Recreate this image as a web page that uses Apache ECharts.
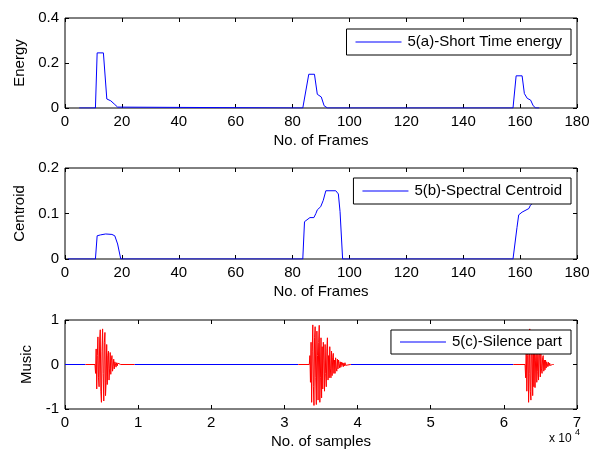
<!DOCTYPE html>
<html><head><meta charset="utf-8">
<script src="https://cdn.jsdelivr.net/npm/echarts@6/dist/echarts.min.js"></script>
<style>html,body{margin:0;padding:0;background:#fff}#c{width:609px;height:458px}</style>
</head><body><div id="c"></div>
<script>
// ---- Data ----
var energyFrames = [5, 10.7, 11.3, 13.5, 14.7, 16.1, 17.3, 18.5, 19.2, 83.6, 85.7, 87.7, 88.7, 90.1, 91.1, 92.3, 157.5, 158.6, 160.7, 161.5, 162.5, 163.7, 164.6, 165.5, 166.7];
var energyValues = [0, 0, 0.245, 0.245, 0.04, 0.032, 0.018, 0.004, 0, 0, 0.15, 0.15, 0.061, 0.049, 0.01, 0, 0, 0.143, 0.143, 0.064, 0.043, 0.035, 0.01, 0, 0];

var centroidFrames = [1, 10.7, 11.3, 12.5, 14.3, 16.5, 17.5, 18.5, 19.6, 83.6, 84.2, 86.1, 87.5, 88.2, 88.7, 89.9, 90.8, 91.7, 95.2, 96.1, 96.7, 97.6, 157.5, 158.9, 159.5, 160.7, 163.1, 163.6, 166.7];
var centroidValues = [0, 0, 0.051, 0.053, 0.055, 0.054, 0.051, 0.033, 0, 0, 0.082, 0.091, 0.091, 0.1, 0.108, 0.115, 0.129, 0.150, 0.150, 0.143, 0.104, 0, 0, 0.069, 0.097, 0.103, 0.111, 0.118, 0.135];

// music (x in units of 10^4 samples)
var silenceStarts = [0, 0.95, 3.91];
var silenceEnds = [0.28, 3.19, 6.13];
var voicedStarts = [0.28, 3.19, 6.13];
var voicedEnds = [0.95, 3.91, 6.69];
var burstStarts = [0.41, 3.34, 6.29];
var burstStep = 0.008;
var burst1 = [0, -0.2, 0.35, -0.55, 0.2, 0.62, -0.3, -0.5, 0.55, 0.78,
  -0.6, -0.85, 0.3, 0.8, -0.2, -0.82, 0.5, 0.72, -0.7, -0.4,
  0.45, -0.45, 0.2, 0.3, -0.35, -0.1, 0.27, -0.22, 0.1, 0.2,
  -0.15, -0.05, 0.12, -0.1, 0.06, 0.02, -0.06, 0.04, -0.03, 0.03,
  -0.01, 0.01, 0, 0, 0];
var burst2 = [0, 0.2, -0.4, 0.5, -0.85, 0.3, 0.89, -0.5, -0.92, 0.6,
  0.85, -0.3, -0.9, 0.75, 0.2, -0.8, 0.5, 0.88, -0.85, -0.3,
  0.6, -0.75, 0.4, -0.55, 0.5, 0.1, -0.6, 0.45, -0.2, -0.5,
  0.35, 0.6, -0.35, 0.2, -0.3, 0.4, -0.1, -0.3, 0.3, -0.25,
  0.15, 0.25, -0.2, 0.1, -0.2, 0.15, -0.08, -0.15, 0.12, -0.1,
  0.1, 0.02, -0.08, 0.06, -0.06, 0.05, -0.02, 0.04, -0.05, 0.03,
  -0.03, 0.04, -0.02, 0.02, -0.03, 0.02, -0.01, 0.02, -0.01, 0.01,
  0, 0];
var burst3 = [0, -0.3, 0.4, -0.6, 0.2, 0.6, -0.85, -0.2, 0.8, -0.6,
  -0.8, 0.75, 0.3, -0.7, 0.7, -0.5, 0.5, -0.52, 0.1, 0.45,
  -0.4, -0.15, 0.4, -0.35, 0.2, 0.3, -0.28, 0.25, -0.1, -0.2,
  0.15, 0.2, -0.15, 0.1, -0.12, 0.1, -0.08, 0.06, 0.02, -0.05,
  0.05, -0.03, 0.03, -0.02, 0.02, -0.01, 0.01, 0, 0, 0];
var bursts = [burst1, burst2, burst3];

var xTicksFrames = {min: 0, max: 180, interval: 20};
var xTicksSamples = {min: 0, max: 7, interval: 1};

// ---- Build ----
function zip(xs, ys){ return xs.map(function(x,i){ return [x, ys[i]]; }); }

var FONT = 'Liberation Sans, Arial, sans-serif';
var FS = 15;
var grids = [
  {left: 65, top: 18, width: 512, height: 90},
  {left: 65, top: 168, width: 512, height: 91},
  {left: 65, top: 320, width: 512, height: 89}
];
grids.forEach(function(g){ g.show = true; g.borderColor = '#000'; g.borderWidth = 1; g.backgroundColor = '#fff'; });

var tick = {show: true, inside: true, length: 4, lineStyle: {color: '#000', width: 1}};
var lbl = {color: '#000', fontSize: FS, fontFamily: FONT};
var noLine = {show: false, onZero: false};

function xAx(i, r, name){
  return [{
    type: 'value', gridIndex: i, min: r.min, max: r.max, interval: r.interval,
    axisLine: noLine, axisTick: tick, splitLine: {show: false},
    axisLabel: Object.assign({margin: 6}, lbl),
    name: name, nameLocation: 'middle', nameGap: 25,
    nameTextStyle: {color: '#000', fontSize: FS, fontFamily: FONT}
  }, {
    type: 'value', gridIndex: i, position: 'top', min: r.min, max: r.max, interval: r.interval,
    axisLine: noLine, axisTick: tick, splitLine: {show: false}, axisLabel: {show: false}
  }];
}
function yAx(i, mn, mx, iv, name, fmt){
  return [{
    type: 'value', gridIndex: i, min: mn, max: mx, interval: iv,
    axisLine: noLine, axisTick: tick, splitLine: {show: false},
    axisLabel: Object.assign({margin: 6, formatter: fmt}, lbl),
    name: name, nameLocation: 'middle', nameGap: 28, nameRotate: 90,
    nameTextStyle: {color: '#000', fontSize: FS, fontFamily: FONT}
  }, {
    type: 'value', gridIndex: i, position: 'right', min: mn, max: mx, interval: iv,
    axisLine: noLine, axisTick: tick, splitLine: {show: false}, axisLabel: {show: false}
  }];
}

var xAxes = [].concat(xAx(0, xTicksFrames, 'No. of Frames'), xAx(1, xTicksFrames, 'No. of Frames'), xAx(2, xTicksSamples, 'No. of samples'));
var yAxes = [].concat(
  yAx(0, 0, 0.4, 0.2, 'Energy', function(v){ return String(+v.toFixed(1)); }),
  yAx(1, 0, 0.2, 0.1, 'Centroid', function(v){ return String(+v.toFixed(1)); }),
  yAx(2, -1, 1, 1, 'Music', function(v){ return String(v); })
);

var series = [
  {name: '5(a)-Short Time energy', type: 'line', xAxisIndex: 0, yAxisIndex: 0, data: zip(energyFrames, energyValues),
   symbol: 'none', lineStyle: {color: '#0000ff', width: 1}, itemStyle: {color: '#0000ff'}},
  {name: '5(b)-Spectral Centroid', type: 'line', xAxisIndex: 2, yAxisIndex: 2, data: zip(centroidFrames, centroidValues),
   symbol: 'none', lineStyle: {color: '#0000ff', width: 1}, itemStyle: {color: '#0000ff'}}
];
for (var s = 0; s < silenceStarts.length; s++) {
  series.push({name: '5(c)-Silence part', type: 'line', xAxisIndex: 4, yAxisIndex: 4,
    data: [[silenceStarts[s], 0], [silenceEnds[s], 0]], symbol: 'none',
    lineStyle: {color: '#0000ff', width: 1}, itemStyle: {color: '#0000ff'}});
}
for (var v = 0; v < voicedStarts.length; v++) {
  var d = [[voicedStarts[v], 0]];
  bursts[v].forEach(function(y, k){ d.push([burstStarts[v] + k * burstStep, y]); });
  d.push([voicedEnds[v], 0]);
  series.push({name: 'voiced', type: 'line', xAxisIndex: 4, yAxisIndex: 4, data: d, symbol: 'none',
    lineStyle: {color: '#ff0000', width: 1}, itemStyle: {color: '#ff0000'}});
}

function leg(name, top, h){
  return {data: [name], right: 38, top: top, orient: 'horizontal', selectedMode: false,
    icon: 'rect', itemWidth: 46, itemHeight: 1.2, itemGap: 0,
    borderColor: '#000', borderWidth: 1, borderRadius: 0, backgroundColor: '#fff',
    padding: [(h - 17) / 2, 9, (h - 17) / 2, 9],
    textStyle: {color: '#000', fontSize: FS, fontFamily: FONT, padding: [0, 0, 0, 1]}};
}

var chart = echarts.init(document.getElementById('c'), null, {renderer: 'canvas'});
chart.setOption({
  animation: false,
  backgroundColor: '#fff',
  grid: grids,
  xAxis: xAxes,
  yAxis: yAxes,
  legend: [leg('5(a)-Short Time energy', 29, 28), leg('5(b)-Spectral Centroid', 178, 28), leg('5(c)-Silence part', 330, 26)],
  series: series,
  graphic: [
    {type: 'text', left: 549, top: 433, style: {text: 'x 10', fill: '#000', fontSize: 12, fontFamily: FONT}},
    {type: 'text', left: 575, top: 428, style: {text: '4', fill: '#000', fontSize: 9, fontFamily: FONT}}
  ]
});
</script></body></html>
